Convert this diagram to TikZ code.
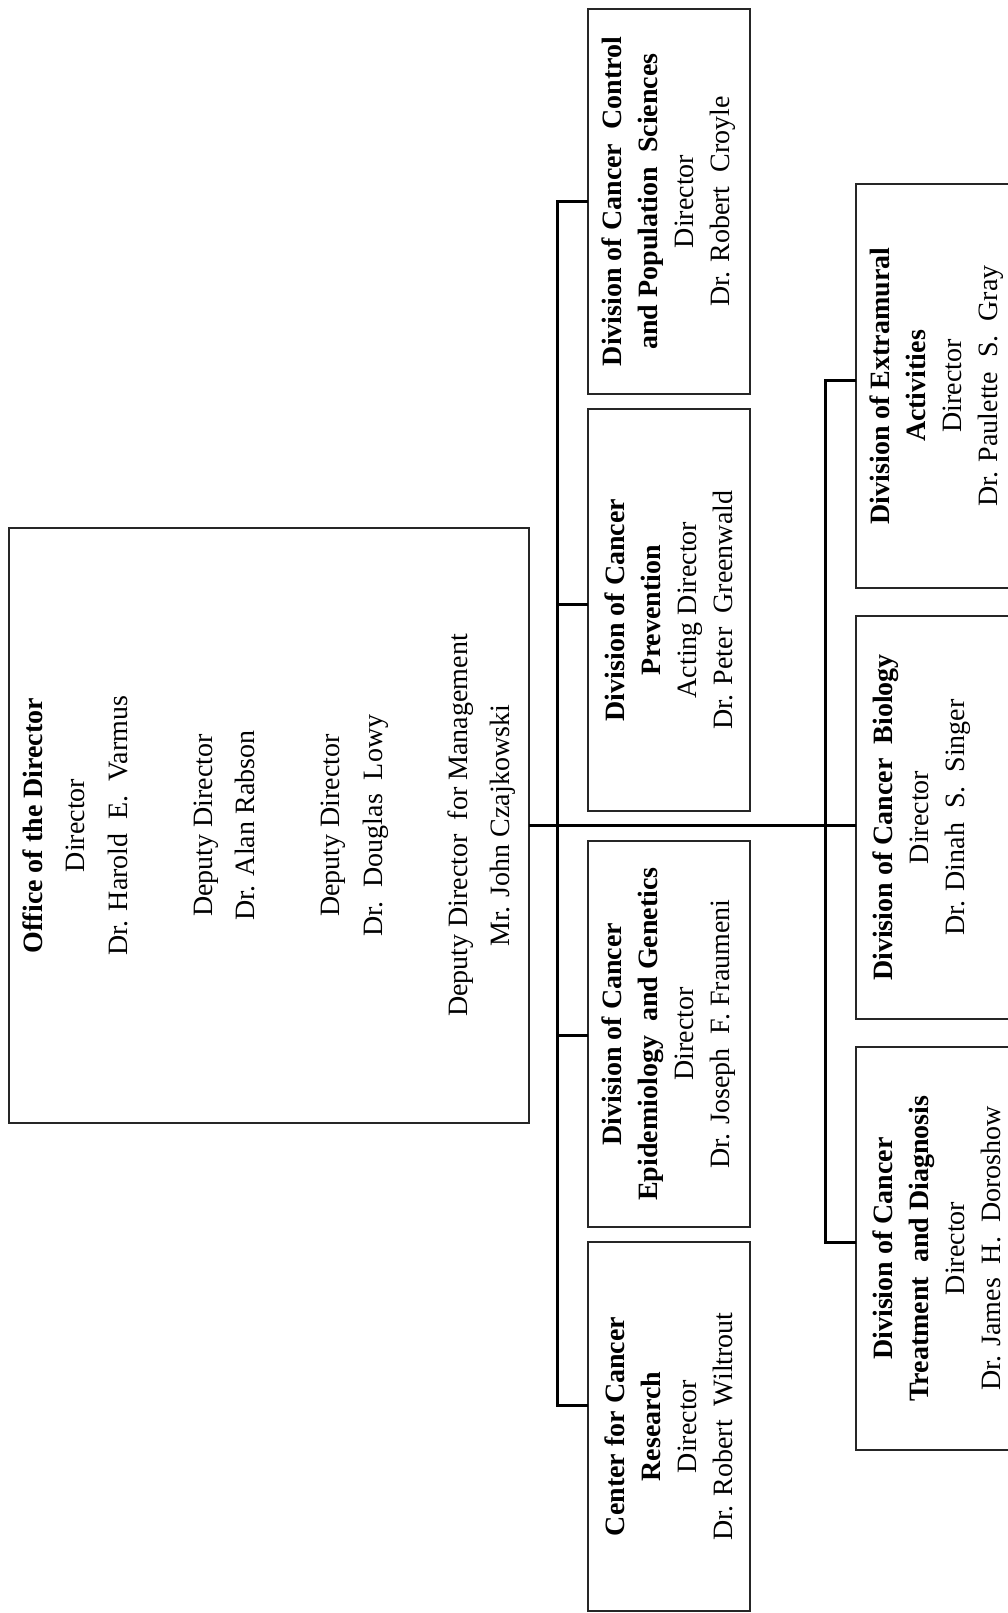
\documentclass[tikz,border=0pt]{standalone}
\usepackage{fontspec}
\setmainfont{Liberation Serif}
\tikzset{
  orgbox/.style={draw=black!85, line width=1.4pt, rotate=90, align=center,
    inner sep=0pt, outer sep=0pt, font=\fontsize{28}{36}\selectfont},
  officebox/.style={orgbox, font=\fontsize{28}{42.5}\selectfont},
  conn/.style={line width=3pt, draw=black, line join=miter}
}
\begin{document}
\begin{tikzpicture}[x=1pt,y=-1pt]
\useasboundingbox[fill=white] (0,0) rectangle (1008,1613);

% Office of the Director
\node[officebox, minimum width=595pt, minimum height=520pt] (office) at (269,825.5)
 {\textbf{Office of the Director}\\ Director\\ Dr. Harold\ \ E.\ \ Varmus\\[42.5pt]
  Deputy Director\\ Dr. Alan Rabson\\[42.5pt]
  Deputy Director\\ Dr.\ \ Douglas\ \ Lowy\\[42.5pt]
  Deputy Director\ \ for Management\\ Mr. John Czajkowski};

% first column of divisions
\node[orgbox, minimum width=385pt, minimum height=162pt] (control) at (669,201.5)
 {\textbf{Division of Cancer\ \ Control}\\ \textbf{and Population\ \ Sciences}\\ Director\\ Dr. Robert\ \ Croyle};
\node[orgbox, minimum width=402pt, minimum height=162pt] (prev) at (669,610)
 {\textbf{Division of Cancer}\\ \textbf{Prevention}\\ Acting Director\\ Dr. Peter\ \ Greenwald};
\node[orgbox, minimum width=386pt, minimum height=162pt] (epid) at (669,1034)
 {\textbf{Division of Cancer}\\ \textbf{Epidemiology\ \ and Genetics}\\ Director\\ Dr. Joseph\ \ F. Fraumeni};
\node[orgbox, minimum width=369pt, minimum height=162pt] (ccr) at (669,1426.5)
 {\textbf{Center for Cancer}\\ \textbf{Research}\\ Director\\ Dr. Robert\ \ Wiltrout};

% second column of divisions
\node[orgbox, minimum width=404pt, minimum height=162pt] (extra) at (937,386)
 {\textbf{Division of Extramural}\\ \textbf{Activities}\\ Director\\ Dr. Paulette\ \ S.\ \ Gray};
\node[orgbox, minimum width=403pt, minimum height=162pt] (bio) at (937,817.5)
 {\textbf{Division of Cancer\ \ Biology}\\ Director\\ Dr. Dinah\ \ S.\ \ Singer\\ \mbox{}};
\node[orgbox, minimum width=403pt, minimum height=162pt] (treat) at (937,1248.5)
 {\textbf{Division of Cancer}\\ \textbf{Treatment\ \ and Diagnosis}\\ Director\\ Dr. James\ \ H.\ \ Doroshow};

% bus coordinates
\coordinate (b1a) at (557,202);
\coordinate (b1b) at (557,604);
\coordinate (b1c) at (557,1035);
\coordinate (b1d) at (557,1405);
\coordinate (b2a) at (825,380);
\coordinate (b2c) at (825,1242);

% connectors
\draw[conn] (office.south) -- (office.south -| bio.north);
\draw[conn] (b1a -| control.north) -- (b1a) -- (b1d) -- (b1d -| ccr.north);
\draw[conn] (b1b) -- (b1b -| prev.north);
\draw[conn] (b1c) -- (b1c -| epid.north);
\draw[conn] (b2a -| extra.north) -- (b2a) -- (b2c) -- (b2c -| treat.north);
\end{tikzpicture}
\end{document}
